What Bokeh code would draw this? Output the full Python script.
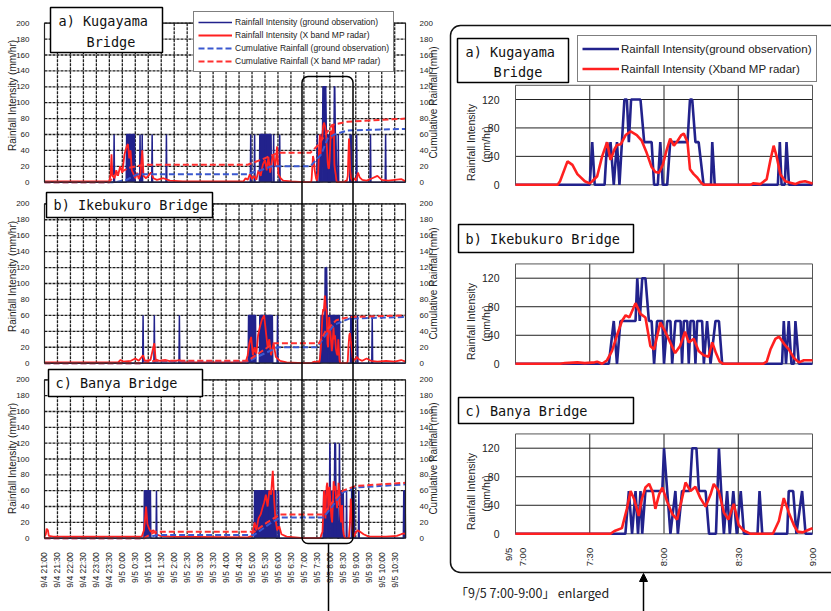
import math
from bokeh.plotting import figure
from bokeh.models import (Range1d, LinearAxis, FixedTicker, BoxAnnotation, Arrow,
                          NormalHead, Legend, LegendItem)
from bokeh.core.properties import value
from bokeh.embed import file_html
from bokeh.resources import INLINE

# ======================= DATA =======================
# Overview panels: time in minutes after 9/4 21:00
OVERVIEW_TICKS = [0, 30, 60, 90, 120, 150, 180, 210, 240, 270, 300, 330, 360, 390,
                  420, 450, 480, 510, 540, 570, 600, 630, 660, 690, 720, 750, 780, 810]
OVERVIEW_TICK_LABELS = ["9/4 21:00", "9/4 21:30", "9/4 22:00", "9/4 22:30", "9/4 23:00",
                        "9/4 23:30", "9/5 0:00", "9/5 0:30", "9/5 1:00", "9/5 1:30",
                        "9/5 2:00", "9/5 2:30", "9/5 3:00", "9/5 3:30", "9/5 4:00",
                        "9/5 4:30", "9/5 5:00", "9/5 5:30", "9/5 6:00", "9/5 6:30",
                        "9/5 7:00", "9/5 7:30", "9/5 8:00", "9/5 8:30", "9/5 9:00",
                        "9/5 9:30", "9/5 10:00", "9/5 10:30"]
OVERVIEW_END = 835
INTENSITY_TICKS = [0, 20, 40, 60, 80, 100, 120, 140, 160, 180, 200]
CUMULATIVE_TICKS = [0, 20, 40, 60, 80, 100, 120, 140, 160, 180, 200]
WINDOW_START = 600          # 9/5 7:00 in overview minutes

# Enlarged panels: minutes after 9/5 7:00
ENLARGED_TICKS = [0, 30, 60, 90, 120]
ENLARGED_TICK_LABELS = ["9/5\n7:00", "7:30", "8:00", "8:30", "9:00"]
ENLARGED_Y_TICKS = [0, 40, 80, 120]
ENLARGED_Y_MAX = 140

# --- a) Kugayama, enlarged 7:00-9:00
KUG_GROUND_T = [0, 30, 31, 32, 36, 37, 37.7, 38.4, 39.7, 41, 42, 43, 44, 45, 45.8, 46.7, 50.5, 52,
                55, 56, 57.5, 58.5, 59.5, 61.3, 62.5, 69.5, 70.5, 71.4, 72.7, 74, 76, 79, 79.5,
                80.5, 106, 106.8, 107.5, 108.8, 109.5, 110.5, 120]
KUG_GROUND_V = [0, 0, 60, 0, 0, 60, 40, 60, 0, 60, 0, 60, 120, 120, 60, 120, 120, 60,
                60, 0, 0, 60, 0, 0, 60, 60, 120, 120, 60, 60, 0, 0, 60,
                0, 0, 60, 0, 0, 60, 0, 0]
KUG_RADAR_T = [0, 17, 18, 21, 23, 25, 28, 30, 31, 33, 35, 37, 38.4, 40, 41, 42.5, 44.5, 46.5, 49,
               51, 53, 55, 56.5, 58, 59.5, 61, 62.5, 64, 65.5, 67, 68, 69.5, 70.5, 72, 73.5, 75,
               76, 95, 96, 99, 101.5, 103, 104.3, 105.5, 107, 109, 111, 113, 115, 117, 120]
KUG_RADAR_V = [0, 0, 5, 33, 28, 15, 5, 2, 5, 12, 40, 60, 35, 50, 56, 57, 70, 75, 70,
               62, 45, 25, 18, 17, 28, 48, 65, 55, 62, 70, 72, 60, 22, 15, 10, 3,
               0, 0, 2, 1, 8, 35, 55, 40, 15, 5, 3, 1, 4, 5, 2]

# --- b) Ikebukuro, enlarged
IKE_GROUND_T = [0, 37.7, 39.7, 41, 42.4, 48.5, 49.2, 50.2, 51.2, 52.5, 53.9, 55, 56, 57.2, 59.3,
                60, 61.3, 62.6, 63.3, 64.6, 66.7, 67.3, 68, 69.4, 70, 70.7, 72, 72.7, 73.4, 75.4,
                76.1, 77.4, 78.8, 80.8, 82.2, 83.5, 107.7, 108.4, 109.3, 110.4, 111.5, 112.5,
                113.1, 114.5, 120]
IKE_GROUND_V = [0, 0, 60, 0, 60, 60, 120, 60, 120, 120, 60, 60, 0, 60, 60,
                0, 60, 60, 0, 60, 60, 0, 60, 60, 0, 60, 60, 0, 60, 60,
                0, 60, 0, 60, 60, 0, 0, 60, 0, 60, 0, 0,
                60, 0, 0]
IKE_RADAR_T = [0, 18, 20, 25, 28, 32, 33, 35, 37, 39, 41, 43, 44.5, 46, 48.5, 50.5, 52.5, 54.5,
               56, 58.5, 60.5, 62.5, 64.5, 66.5, 68.5, 70, 72, 74, 76, 78, 79.5, 81, 82.5, 84,
               100, 101.5, 103, 105, 106.5, 108.5, 110.5, 112.5, 114.5, 116.5, 120]
IKE_RADAR_V = [0, 0, 1, 2, 1, 2, 3, 0, 5, 18, 40, 60, 68, 65, 85, 70, 65, 25,
               20, 58, 45, 30, 15, 25, 45, 30, 35, 18, 12, 10, 30, 15, 3, 0,
               0, 3, 20, 35, 38, 28, 20, 8, 2, 5, 5]

# --- c) Banya, enlarged
BAN_GROUND_T = [0, 44.4, 45.8, 47.1, 48.5, 49.5, 50.5, 51.2, 52.5, 59.3, 60, 61.3, 62.6, 64.6,
                65.6, 67.3, 70.4, 71.4, 73.1, 74.1, 76.8, 78.2, 81, 82.2, 83.1, 84.2, 85.5, 86.6,
                88, 89.4, 91, 92.3, 97.8, 98.6, 99.7, 109.8, 110.4, 112.2, 113.5, 115.8, 117.2, 120]
BAN_GROUND_V = [0, 0, 60, 0, 60, 0, 60, 0, 60, 60, 120, 60, 0, 60,
                0, 60, 60, 120, 120, 60, 60, 0, 0, 120, 60, 0, 60, 0,
                60, 0, 60, 0, 0, 60, 0, 0, 60, 60, 0, 60, 0, 0]
BAN_RADAR_T = [0, 38.4, 40, 43, 45, 46.5, 48, 49.8, 51, 52.5, 54, 55.5, 56.5, 58, 59.3, 61.3,
               63.3, 65.3, 67.3, 68.7, 70.7, 72.7, 74.7, 76.8, 78.8, 80.1, 82.1, 84.2, 86, 88.2,
               90.2, 92, 95, 104, 106.4, 108.4, 110.4, 112.5, 114, 116, 118, 120]
BAN_RADAR_V = [0, 0, 4, 8, 35, 60, 48, 25, 48, 65, 70, 58, 35, 55, 65, 45,
               28, 20, 50, 72, 60, 66, 50, 38, 55, 70, 60, 30, 20, 42,
               12, 5, 0, 0, 18, 50, 30, 12, 3, 2, 5, 8]

# --- overview parts outside the 7:00-9:00 window (minutes after 9/4 21:00)
KUG_OV_GROUND_PRE_T = [0, 160, 161, 162, 189, 190, 199, 200, 201, 208, 209, 220, 221, 222, 225,
                       226, 227, 248, 249, 250, 281, 282, 283, 476, 477, 478, 485, 486, 487, 497,
                       498, 510, 511, 512, 524, 525, 529, 530, 531, 543, 544, 545, 599]
KUG_OV_GROUND_PRE_V = [0, 0, 60, 0, 0, 60, 60, 20, 60, 60, 0, 0, 60, 0, 0,
                       60, 0, 0, 60, 0, 0, 60, 0, 0, 60, 0, 0, 60, 0, 0,
                       60, 60, 30, 60, 60, 0, 0, 60, 0, 0, 60, 0, 0]
KUG_OV_GROUND_POST_T = [721, 722, 723, 753, 754, 755, 788, 789, 790, 835]
KUG_OV_GROUND_POST_V = [0, 60, 0, 0, 60, 0, 0, 60, 0, 0]
KUG_OV_RADAR_PRE_T = [0, 150, 153, 155, 157, 162, 166, 170, 175, 180, 185, 190, 193, 196, 199,
                      202, 206, 210, 214, 218, 222, 226, 229, 235, 240, 246, 252, 260, 275, 290,
                      320, 460, 465, 470, 475, 480, 485, 490, 495, 500, 505, 510, 514, 518, 522,
                      528, 534, 538, 541, 546, 552, 570, 599]
KUG_OV_RADAR_PRE_V = [1, 1, 10, 35, 8, 5, 15, 8, 20, 12, 35, 45, 48, 30, 40,
                      15, 10, 5, 12, 4, 10, 40, 8, 5, 8, 12, 5, 3, 5, 2,
                      1, 1, 5, 3, 10, 4, 8, 3, 15, 8, 22, 28, 15, 32, 12,
                      35, 20, 45, 10, 5, 2, 1, 0]
KUG_OV_RADAR_POST_T = [722, 725, 729, 735, 745, 758, 770, 780, 795, 810, 825, 835]
KUG_OV_RADAR_POST_V = [5, 12, 6, 3, 2, 5, 8, 3, 2, 3, 4, 1]
KUG_CUM_GROUND_T = [0, 165, 190, 215, 470, 480, 500, 525, 615, 640, 655, 670, 700, 835]
KUG_CUM_GROUND_V = [0, 0, 3, 10, 10, 12, 15, 20, 20, 35, 55, 60, 65, 67]
KUG_CUM_RADAR_T = [0, 150, 160, 195, 230, 470, 500, 540, 615, 630, 650, 665, 700, 835]
KUG_CUM_RADAR_V = [0, 0, 8, 18, 22, 22, 28, 37, 37, 45, 60, 72, 76, 80]

IKE_OV_GROUND_PRE_T = [0, 227, 228, 229, 253, 254, 255, 311, 312, 313, 471, 472, 488, 489, 497,
                       498, 514, 515, 516, 527, 528, 538, 539, 540, 599]
IKE_OV_GROUND_PRE_V = [0, 0, 60, 0, 0, 60, 0, 0, 60, 0, 0, 60, 60, 0, 0,
                       60, 60, 20, 60, 60, 0, 0, 60, 0, 0]
IKE_OV_GROUND_POST_T = [723, 724, 725, 757, 758, 759, 835]
IKE_OV_GROUND_POST_V = [0, 60, 0, 0, 60, 0, 0]
IKE_OV_RADAR_PRE_T = [0, 170, 176, 182, 200, 210, 218, 228, 232, 245, 254, 257, 265, 280, 295,
                      312, 320, 465, 470, 474, 478, 482, 486, 490, 494, 498, 503, 508, 512, 516,
                      520, 524, 530, 535, 545, 560, 599]
IKE_OV_RADAR_PRE_V = [1, 1, 4, 2, 3, 6, 3, 10, 3, 4, 25, 5, 3, 4, 2,
                      4, 1, 1, 10, 25, 33, 10, 20, 12, 35, 45, 55, 60, 40, 20,
                      30, 10, 25, 8, 3, 1, 0]
IKE_OV_RADAR_POST_T = [722, 727, 735, 745, 755, 770, 790, 810, 825, 835]
IKE_OV_RADAR_POST_V = [8, 5, 3, 6, 3, 2, 3, 2, 4, 2]
IKE_CUM_GROUND_T = [0, 225, 230, 255, 470, 500, 540, 630, 650, 670, 705, 835]
IKE_CUM_GROUND_V = [0, 0, 1, 2, 2, 10, 20, 20, 35, 48, 56, 58]
IKE_CUM_RADAR_T = [0, 225, 255, 470, 500, 530, 635, 650, 675, 705, 835]
IKE_CUM_RADAR_V = [0, 0, 3, 3, 14, 25, 25, 40, 54, 58, 60]

BAN_OV_GROUND_PRE_T = [0, 230, 231, 238, 239, 240, 245, 246, 258, 259, 260, 485, 486, 500, 501,
                       502, 520, 521, 522, 535, 536, 540, 541, 543, 599]
BAN_OV_GROUND_PRE_V = [0, 0, 60, 60, 30, 60, 60, 0, 0, 60, 0, 0, 60, 60, 20,
                       60, 60, 20, 60, 60, 0, 0, 60, 0, 0]
BAN_OV_GROUND_POST_T = [726, 727, 728, 830, 831, 834, 835]
BAN_OV_GROUND_POST_V = [0, 60, 0, 0, 60, 60, 0]
BAN_OV_RADAR_PRE_T = [0, 3, 5, 8, 10, 20, 100, 225, 230, 232, 235, 238, 242, 246, 252, 258, 268,
                      290, 470, 480, 486, 490, 495, 500, 505, 508, 512, 516, 520, 524, 528, 531,
                      534, 538, 543, 548, 560, 580, 599]
BAN_OV_RADAR_PRE_V = [2, 5, 12, 10, 3, 2, 2, 2, 10, 20, 40, 18, 12, 8, 10, 5, 3,
                      2, 1, 3, 20, 10, 25, 30, 40, 45, 55, 40, 60, 55, 85, 50,
                      25, 10, 15, 5, 2, 1, 0]
BAN_OV_RADAR_POST_T = [722, 724, 730, 738, 750, 790, 815, 825, 832, 835]
BAN_OV_RADAR_POST_V = [8, 10, 8, 5, 2, 2, 3, 5, 6, 5]
BAN_CUM_GROUND_T = [0, 230, 260, 485, 520, 545, 645, 665, 690, 720, 835]
BAN_CUM_GROUND_V = [0, 0, 4, 4, 18, 26, 26, 40, 58, 64, 68]
BAN_CUM_RADAR_T = [0, 230, 255, 485, 515, 545, 645, 665, 690, 720, 835]
BAN_CUM_RADAR_V = [0, 0, 8, 8, 20, 30, 30, 45, 60, 66, 70]

# ======================= STYLE / LAYOUT =======================
W, H = 831, 611
GRID = "#1e1e1e"
NAVY = "#22228c"
RED = "#ff2020"
CUM_BLUE = "#3a58d0"
CUM_RED = "#ff3030"
TXT = "#222222"
SANS = "Liberation Sans"
MONO = "DejaVu Sans Mono"
CJK = "Noto Sans CJK JP"


def x_range(d0, p0, d1, p1):
    s = (d1 - d0) / (p1 - p0)
    return Range1d(d0 - p0 * s, d0 + (W - p0) * s)


def y_range(v0, py0, v1, py1):
    s = (v1 - v0) / (py0 - py1)
    return Range1d(v0 + (py0 - H) * s, v0 + py0 * s)


p = figure(width=W, height=H, x_range=Range1d(0, W), y_range=Range1d(H, 0),
           x_axis_type=None, y_axis_type=None, toolbar_location=None,
           output_backend="svg", min_border=0, outline_line_color=None,
           background_fill_color="white", border_fill_color="white")

L_X0 = 44.0
L_X810 = 394.2
p.extra_x_ranges = {"L": x_range(0, L_X0, 810, L_X810),
                    "R": x_range(0, 515.0, 120, 812.0)}
p.extra_y_ranges = {"A": y_range(0, 181.7, 200, 22.7),
                    "B": y_range(0, 362.7, 200, 203.3),
                    "C": y_range(0, 537.7, 200, 379.3),
                    "RA": y_range(0, 184.3, 120, 99.0),
                    "RB": y_range(0, 363.3, 120, 277.7),
                    "RC": y_range(0, 533.3, 120, 447.7)}
L_RIGHT_PX = L_X0 + (L_X810 - L_X0) * OVERVIEW_END / 810


def style_axis(ax, size, standoff):
    ax.axis_line_color = None
    ax.major_tick_line_color = None
    ax.minor_tick_line_color = None
    ax.major_label_text_font = SANS
    ax.major_label_text_font_size = size
    ax.major_label_text_color = TXT
    ax.major_label_standoff = standoff


def overview_panel(yname, g_t, g_v, r_t, r_v, cg_t, cg_v, cr_t, cr_v, with_x_axis):
    kw = dict(x_range_name="L", y_range_name=yname)
    vt = OVERVIEW_TICKS[1:]
    p.segment(x0=vt, x1=vt, y0=[INTENSITY_TICKS[0]] * len(vt), y1=[INTENSITY_TICKS[-1]] * len(vt),
              line_color=GRID, line_width=1.3, line_dash="3 1", **kw)
    ht = INTENSITY_TICKS[1:]
    p.segment(x0=[0] * len(ht), x1=[OVERVIEW_END] * len(ht), y0=ht, y1=ht,
              line_color=GRID, line_width=1.3, line_dash="3 1", **kw)
    p.varea(x=g_t, y1=0, y2=g_v, fill_color=NAVY, **kw)
    g = p.line(g_t, g_v, line_color=NAVY, line_width=1.5, **kw)
    r = p.line(r_t, r_v, line_color=RED, line_width=1.8, **kw)
    cg = p.line(cg_t, cg_v, line_color=CUM_BLUE, line_width=2, line_dash="6 3", **kw)
    cr = p.line(cr_t, cr_v, line_color=CUM_RED, line_width=2, line_dash="6 3", **kw)
    p.quad(left=[0], right=[OVERVIEW_END], bottom=[0], top=[INTENSITY_TICKS[-1]],
           fill_color=None, line_color="#222222", line_width=1.2, **kw)

    ax = LinearAxis(y_range_name=yname, fixed_location=L_X0,
                    ticker=FixedTicker(ticks=INTENSITY_TICKS))
    style_axis(ax, "8px", 9)
    p.add_layout(ax, "left")
    ax2 = LinearAxis(y_range_name=yname, fixed_location=L_RIGHT_PX,
                     ticker=FixedTicker(ticks=CUMULATIVE_TICKS))
    style_axis(ax2, "8px", 8)
    p.add_layout(ax2, "right")
    if with_x_axis:
        xa = LinearAxis(x_range_name="L", y_range_name=yname, fixed_location=0,
                        ticker=FixedTicker(ticks=OVERVIEW_TICKS),
                        major_label_overrides=dict(zip(OVERVIEW_TICKS, OVERVIEW_TICK_LABELS)),
                        major_label_orientation=math.pi / 2)
        style_axis(xa, "8.5px", 8)
        p.add_layout(xa, "below")
    return g, r, cg, cr


def enlarged_panel(yname, g_t, g_v, r_t, r_v, with_x_axis):
    kw = dict(x_range_name="R", y_range_name=yname)
    vt = ENLARGED_TICKS[1:-1]
    p.segment(x0=vt, x1=vt, y0=[0] * len(vt), y1=[ENLARGED_Y_MAX] * len(vt),
              line_color="#222222", line_width=1, **kw)
    ht = ENLARGED_Y_TICKS[1:]
    p.segment(x0=[0] * len(ht), x1=[ENLARGED_TICKS[-1]] * len(ht), y0=ht, y1=ht,
              line_color="#222222", line_width=1, **kw)
    p.quad(left=[0], right=[ENLARGED_TICKS[-1]], bottom=[0], top=[ENLARGED_Y_MAX],
           fill_color=None, line_color="#555555", line_width=1, **kw)
    g = p.line(g_t, g_v, line_color=NAVY, line_width=2.6, **kw)
    r = p.line(r_t, r_v, line_color=RED, line_width=2.6, **kw)
    ax = LinearAxis(y_range_name=yname, fixed_location=515.0,
                    ticker=FixedTicker(ticks=ENLARGED_Y_TICKS))
    style_axis(ax, "10.5px", 10)
    p.add_layout(ax, "left")
    if with_x_axis:
        xa = LinearAxis(x_range_name="R", y_range_name=yname, fixed_location=0,
                        ticker=FixedTicker(ticks=ENLARGED_TICKS),
                        major_label_overrides=dict(zip(ENLARGED_TICKS, ENLARGED_TICK_LABELS)),
                        major_label_orientation=math.pi / 2)
        style_axis(xa, "9.5px", 8)
        p.add_layout(xa, "below")
    return g, r


def shifted(ts):
    return [t + WINDOW_START for t in ts]


# ---------- overview panels ----------
legend_renderers = overview_panel(
    "A",
    KUG_OV_GROUND_PRE_T + shifted(KUG_GROUND_T) + KUG_OV_GROUND_POST_T,
    KUG_OV_GROUND_PRE_V + KUG_GROUND_V + KUG_OV_GROUND_POST_V,
    KUG_OV_RADAR_PRE_T + shifted(KUG_RADAR_T) + KUG_OV_RADAR_POST_T,
    KUG_OV_RADAR_PRE_V + KUG_RADAR_V + KUG_OV_RADAR_POST_V,
    KUG_CUM_GROUND_T, KUG_CUM_GROUND_V, KUG_CUM_RADAR_T, KUG_CUM_RADAR_V, False)
overview_panel(
    "B",
    IKE_OV_GROUND_PRE_T + shifted(IKE_GROUND_T) + IKE_OV_GROUND_POST_T,
    IKE_OV_GROUND_PRE_V + IKE_GROUND_V + IKE_OV_GROUND_POST_V,
    IKE_OV_RADAR_PRE_T + shifted(IKE_RADAR_T) + IKE_OV_RADAR_POST_T,
    IKE_OV_RADAR_PRE_V + IKE_RADAR_V + IKE_OV_RADAR_POST_V,
    IKE_CUM_GROUND_T, IKE_CUM_GROUND_V, IKE_CUM_RADAR_T, IKE_CUM_RADAR_V, False)
overview_panel(
    "C",
    BAN_OV_GROUND_PRE_T + shifted(BAN_GROUND_T) + BAN_OV_GROUND_POST_T,
    BAN_OV_GROUND_PRE_V + BAN_GROUND_V + BAN_OV_GROUND_POST_V,
    BAN_OV_RADAR_PRE_T + shifted(BAN_RADAR_T) + BAN_OV_RADAR_POST_T,
    BAN_OV_RADAR_PRE_V + BAN_RADAR_V + BAN_OV_RADAR_POST_V,
    BAN_CUM_GROUND_T, BAN_CUM_GROUND_V, BAN_CUM_RADAR_T, BAN_CUM_RADAR_V, True)

# ---------- enlarged panels ----------
enl_renderers = enlarged_panel("RA", KUG_GROUND_T, KUG_GROUND_V, KUG_RADAR_T, KUG_RADAR_V, False)
enlarged_panel("RB", IKE_GROUND_T, IKE_GROUND_V, IKE_RADAR_T, IKE_RADAR_V, False)
enlarged_panel("RC", BAN_GROUND_T, BAN_GROUND_V, BAN_RADAR_T, BAN_RADAR_V, True)

# ---------- axis titles ----------
p.text(x=[12, 12, 12], y=[95, 276, 458],
       text=["Rainfall Intensity (mm/hr)"] * 3, angle=math.pi / 2,
       text_align="center", text_baseline="middle", text_font=value(SANS),
       text_font_size="10px", text_color=TXT)
p.text(x=[433, 433, 433], y=[102, 283, 458],
       text=["Cumulative Rainfall (mm)"] * 3, angle=math.pi / 2,
       text_align="center", text_baseline="middle", text_font=value(SANS),
       text_font_size="10px", text_color=TXT)
p.text(x=[470, 470, 470], y=[142, 321, 491],
       text=["Rainfall Intensity"] * 3, angle=math.pi / 2,
       text_align="center", text_baseline="middle", text_font=value(SANS),
       text_font_size="10.5px", text_color=TXT)
p.text(x=[485, 485, 485], y=[144, 323, 493],
       text=["(mm/hr)"] * 3, angle=math.pi / 2,
       text_align="center", text_baseline="middle", text_font=value(SANS),
       text_font_size="10.5px", text_color=TXT)

# ---------- station title boxes ----------
p.quad(left=[50, 46, 48, 457, 458, 458], right=[162, 212, 202, 568, 633, 633],
       top=[7, 192, 369, 38, 224, 397], bottom=[52, 217, 396, 82, 252, 423],
       fill_color="white", line_color="black", line_width=1.5)
p.text(x=[58, 86, 53, 55, 465, 493, 465, 465],
       y=[20, 41, 204.5, 382.5, 51, 71, 238, 410],
       text=["a) Kugayama", "Bridge", "b) Ikebukuro Bridge", "c) Banya Bridge",
             "a) Kugayama", "Bridge", "b) Ikebukuro Bridge", "c) Banya Bridge"],
       text_align="left", text_baseline="middle", text_font=value(MONO),
       text_font_size="13.5px", text_color="#111111")

# ---------- legends ----------
g, r, cg, cr = legend_renderers
left_legend = Legend(items=[
    LegendItem(label="Rainfall Intensity (ground observation)", renderers=[g]),
    LegendItem(label="Rainfall Intensity (X band MP radar)", renderers=[r]),
    LegendItem(label="Cumulative Rainfall (ground observation)", renderers=[cg]),
    LegendItem(label="Cumulative Rainfall (X band MP radar)", renderers=[cr])],
    location=(193, H - 72), margin=0, padding=4, spacing=1, glyph_width=34,
    glyph_height=12, label_height=12, label_standoff=3,
    label_text_font=SANS, label_text_font_size="8.5px", label_text_color=TXT,
    border_line_color="black", border_line_width=1.2,
    background_fill_color="white", background_fill_alpha=1.0)
p.add_layout(left_legend)

eg, er = enl_renderers
right_legend = Legend(items=[
    LegendItem(label="Rainfall Intensity(ground observation)", renderers=[eg]),
    LegendItem(label="Rainfall Intensity (Xband MP radar)", renderers=[er])],
    location=(577, H - 82), margin=0, padding=4, spacing=3, glyph_width=37,
    glyph_height=17, label_height=17, label_standoff=2,
    label_text_font=SANS, label_text_font_size="11.5px", label_text_color=TXT,
    border_line_color="black", border_line_width=1.5,
    background_fill_color="white", background_fill_alpha=1.0)
p.add_layout(right_legend)

# ---------- highlight / enlargement frame ----------
p.add_layout(BoxAnnotation(left=301.5, right=352.5, top=76, bottom=543,
                           fill_alpha=0, line_color="black", line_alpha=1.0,
                           line_width=1.5, border_radius=6))
p.add_layout(BoxAnnotation(left=450, right=880, top=25, bottom=572,
                           fill_alpha=0, line_color="#111111", line_alpha=1.0,
                           line_width=1.5, border_radius=10))
p.segment(x0=[328], y0=[543], x1=[328], y1=[H], line_color="black", line_width=1.5)
p.add_layout(Arrow(end=NormalHead(size=8, fill_color="black", line_color="black"),
                   x_start=643, y_start=H, x_end=643, y_end=573,
                   line_color="black", line_width=1.5))
p.text(x=[455], y=[592], text=["「9/5 7:00-9:00」 enlarged"], text_align="left",
       text_baseline="middle", text_font=value(CJK), text_font_size="12.5px",
       text_color=TXT)

open("out.html", "w").write(file_html(p, INLINE))
